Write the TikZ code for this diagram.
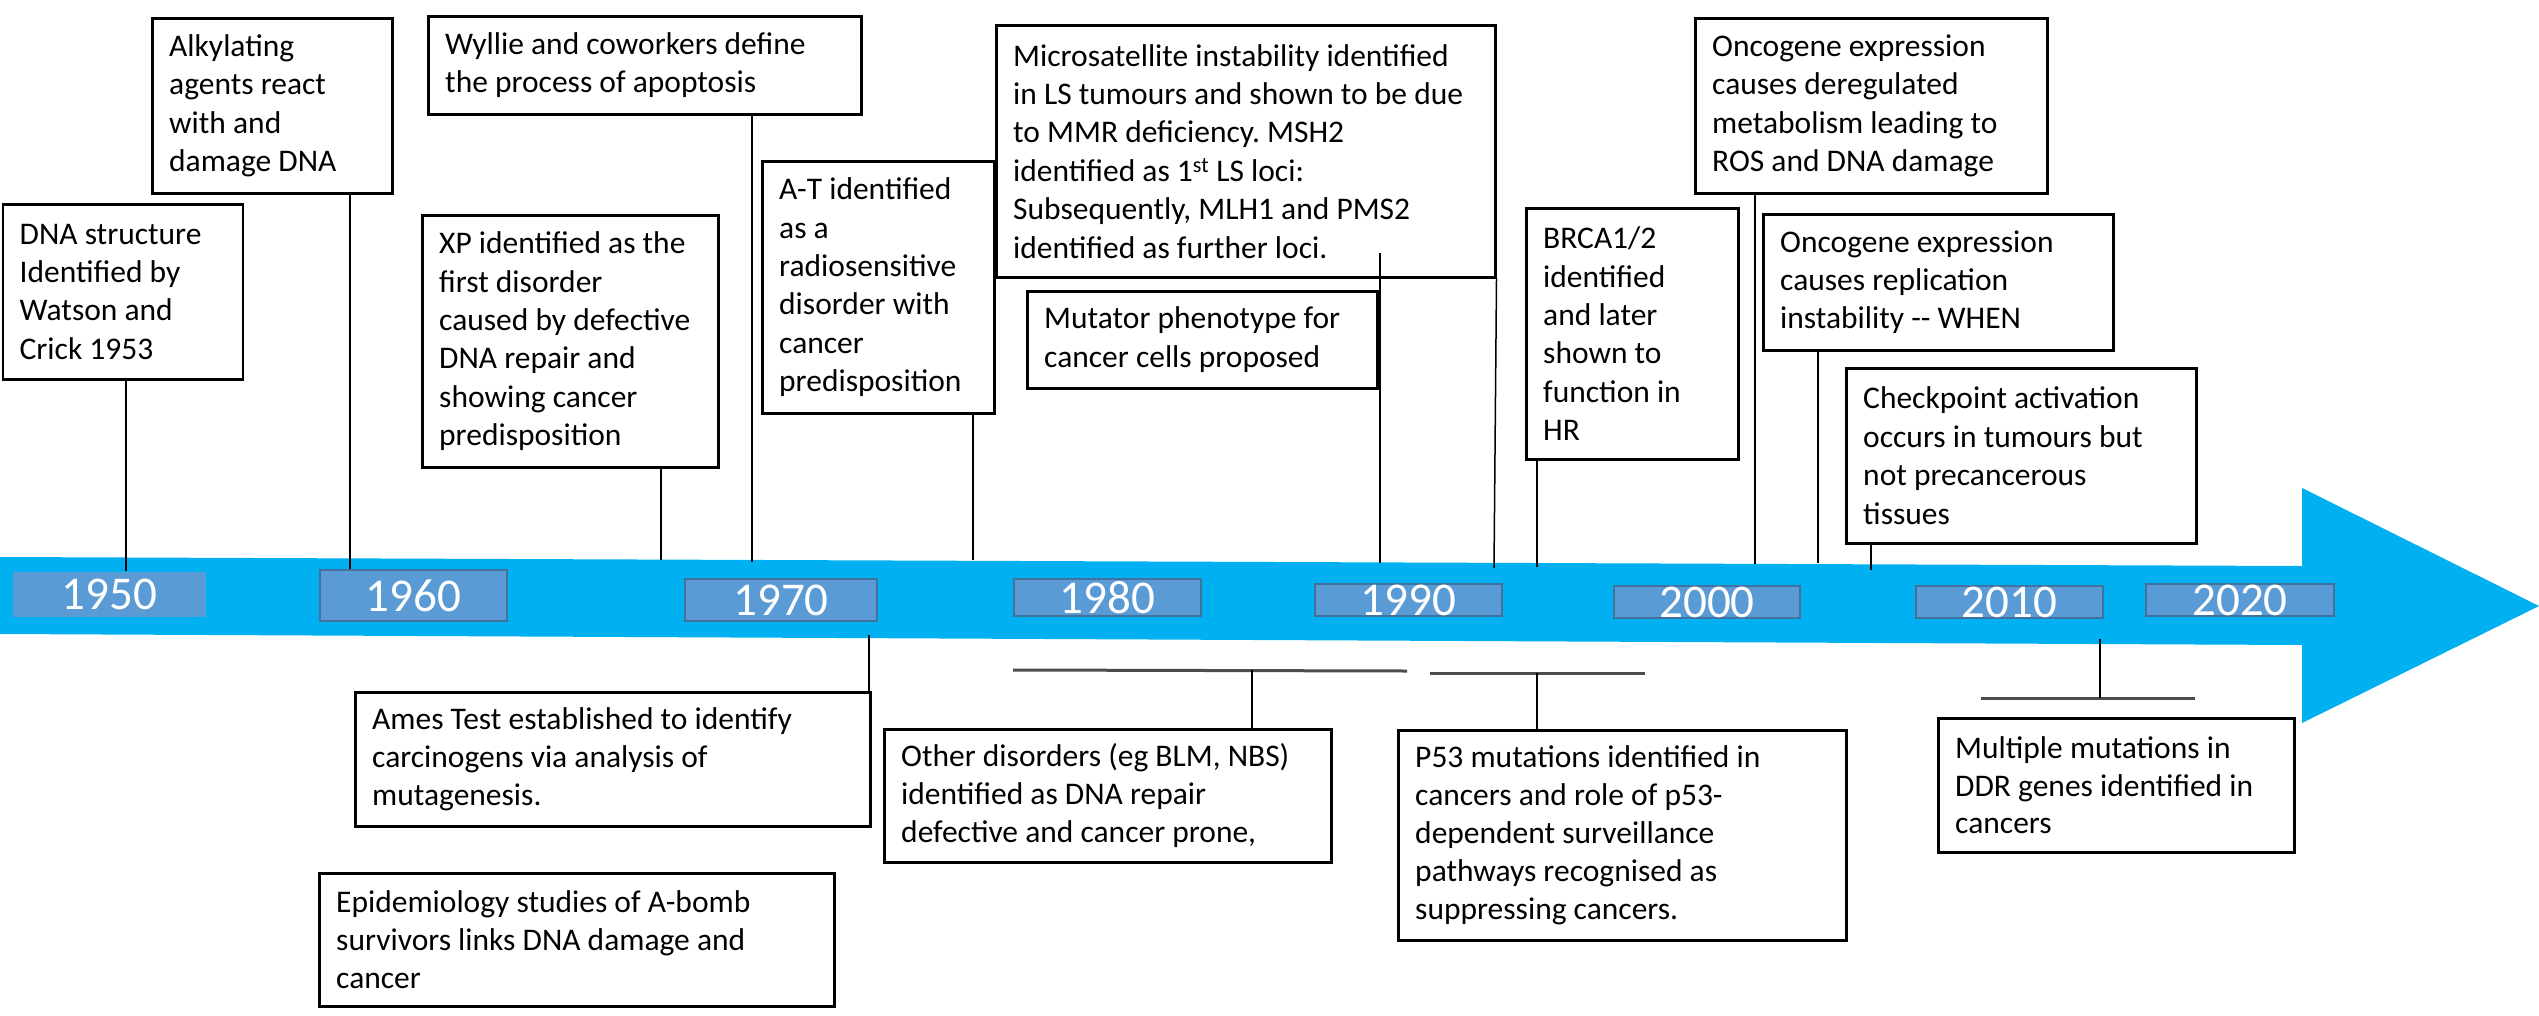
\documentclass[tikz,border=0pt]{standalone}
\usepackage{fontspec}
\setmainfont{Carlito}
\usetikzlibrary{calc}
\definecolor{arrowblue}{HTML}{00B0F0}
\definecolor{yearfill}{HTML}{5B9BD5}
\definecolor{yearline}{HTML}{41719C}
\frenchspacing
\begin{document}
\begin{tikzpicture}[x=1pt,y=-1pt,
  evbox/.style={draw=black, line width=2.5pt, fill=white, anchor=north west, inner sep=0pt},
  evtext/.style={anchor=west, align=left, inner sep=0pt, font=\fontsize{31.5}{38.4}\selectfont},
  lowtext/.style={evtext, font=\fontsize{31.5}{37.8}\selectfont},
  yearbox/.style={fill=yearfill, draw=yearline, line width=2pt, inner sep=0pt, anchor=north west, text=white, font=\fontsize{47}{50}\selectfont},
  conn/.style={black, line width=1.5pt},
  brk/.style={black!70, line width=3pt}]
\useasboundingbox (0,0) rectangle (2539,1015);
\fill[white] (0,0) rectangle (2539,1015);

% timeline arrow
\fill[arrowblue] (0,557) -- (2302,566) -- (2302,488) -- (2539,606) -- (2302,723) -- (2302,645) -- (0,634) -- cycle;

% year labels
\node[yearbox, draw=none, minimum width=193pt, minimum height=45pt] (y1950) at (12,571) {1950};
\node[yearbox, minimum width=187pt, minimum height=51pt] (y1960) at (319,569) {1960};
\node[yearbox, minimum width=192pt, minimum height=42pt] (y1970) at (684,578) {1970};
\node[yearbox, minimum width=187pt, minimum height=37pt] (y1980) at (1013,578) {1980};
\node[yearbox, minimum width=187pt, minimum height=32pt] (y1990) at (1314,583) {1990};
\node[yearbox, minimum width=186pt, minimum height=32pt] (y2000) at (1613,585) {2000};
\node[yearbox, minimum width=187pt, minimum height=32pt] (y2010) at (1915,585) {2010};
\node[yearbox, minimum width=188pt, minimum height=32pt] (y2020) at (2145,583) {2020};

% upper boxes
\node[evbox, minimum width=240pt, minimum height=175pt] (dna) at (1.5,203) {};
\node[evtext] (dnat) at ([xshift=18pt]dna.west) {DNA structure\\Identified by\\Watson and\\Crick 1953};

\node[evbox, minimum width=240pt, minimum height=175pt] (alk) at (151,17) {};
\node[evtext] (alkt) at ([xshift=18pt]alk.west) {Alkylating\\agents react\\with and\\damage DNA};

\node[evbox, minimum width=433pt, minimum height=98pt] (wyl) at (427,15) {};
\node[evtext] (wylt) at ([xshift=18pt]wyl.west) {Wyllie and coworkers define\\the process of apoptosis};

\node[evbox, minimum width=296pt, minimum height=252pt] (xp) at (421,214) {};
\node[evtext] (xpt) at ([xshift=18pt]xp.west) {XP identified as the\\first disorder\\caused by defective\\DNA repair and\\showing cancer\\predisposition};

\node[evbox, minimum width=232pt, minimum height=252pt] (at) at (761,160) {};
\node[evtext] (att) at ([xshift=18pt]at.west) {A-T identified\\as a\\radiosensitive\\disorder with\\cancer\\predisposition};

\node[evbox, minimum width=499pt, minimum height=252pt] (msi) at (995,24) {};
\node[evtext] (msit) at ([xshift=18pt]msi.west) {Microsatellite instability identified\\in LS tumours and shown to be due\\to MMR deficiency. MSH2\\identified as 1\textsuperscript{st} LS loci:\\Subsequently, MLH1 and PMS2\\identified as further loci.};

\node[evbox, minimum width=350pt, minimum height=97pt] (mut) at (1026,290) {};
\node[evtext] (mutt) at ([xshift=18pt]mut.west) {Mutator phenotype for\\cancer cells proposed};

\node[evbox, minimum width=212pt, minimum height=251pt] (brca) at (1525,207) {};
\node[evtext] (brcat) at ([xshift=18pt]brca.west) {BRCA1/2\\identified\\and later\\shown to\\function in\\HR};

\node[evbox, minimum width=352pt, minimum height=175pt] (onc1) at (1694,17) {};
\node[evtext] (onc1t) at ([xshift=18pt]onc1.west) {Oncogene expression\\causes deregulated\\metabolism leading to\\ROS and DNA damage};

\node[evbox, minimum width=350pt, minimum height=136pt] (onc2) at (1762,213) {};
\node[evtext] (onc2t) at ([xshift=18pt]onc2.west) {Oncogene expression\\causes replication\\instability -{}- WHEN};

\node[evbox, minimum width=350pt, minimum height=175pt] (chk) at (1845,367) {};
\node[evtext] (chkt) at ([xshift=18pt]chk.west) {Checkpoint activation\\occurs in tumours but\\not precancerous\\tissues};

% lower boxes
\node[evbox, minimum width=515pt, minimum height=134pt] (ames) at (354,691) {};
\node[lowtext] (amest) at ([xshift=18pt]ames.west) {Ames Test established to identify\\carcinogens via analysis of\\mutagenesis.};

\node[evbox, minimum width=515pt, minimum height=133pt] (epi) at (318,872) {};
\node[lowtext] (epit) at ([xshift=18pt]epi.west) {Epidemiology studies of A-bomb\\survivors links DNA damage and\\cancer};

\node[evbox, minimum width=447pt, minimum height=133pt] (oth) at (883,728) {};
\node[lowtext] (otht) at ([xshift=18pt]oth.west) {Other disorders (eg BLM, NBS)\\identified as DNA repair\\defective and cancer prone,};

\node[evbox, minimum width=448pt, minimum height=210pt] (p53) at (1397,729) {};
\node[lowtext] (p53t) at ([xshift=18pt]p53.west) {P53 mutations identified in\\cancers and role of p53-\\dependent surveillance\\pathways recognised as\\suppressing cancers.};

\node[evbox, minimum width=356pt, minimum height=134pt] (ddr) at (1937,717) {};
\node[lowtext] (ddrt) at ([xshift=18pt]ddr.west) {Multiple mutations in\\DDR genes identified in\\cancers};

% connector end points on the timeline
\coordinate (a1) at (126,571);
\coordinate (a2) at (350,569);
\coordinate (a3) at (752,562);
\coordinate (a4) at (661,560);
\coordinate (a5) at (973,560);
\coordinate (a6) at (1380,563);
\coordinate (m6) at (1380,253);
\coordinate (a7) at (1494,568);
\coordinate (a8) at (1537,567);
\coordinate (a9) at (1755,564);
\coordinate (a10) at (1818,563);
\coordinate (a11) at (1871,570);

\draw[conn] (a1 |- dna.south) -- (a1);
\draw[conn] (a2 |- alk.south) -- (a2);
\draw[conn] (a3 |- wyl.south) -- (a3);
\draw[conn] (a4 |- xp.south) -- (a4);
\draw[conn] (a5 |- at.south) -- (a5);
\draw[conn] (m6) -- (a6);
\draw[conn] (msi.south east) -- (a7);
\draw[conn] (a8 |- brca.south) -- (a8);
\draw[conn] (a9 |- onc1.south) -- (a9);
\draw[conn] (a10 |- onc2.south) -- (a10);
\draw[conn] (a11 |- chk.south) -- (a11);

% lower connectors
\coordinate (b1) at (869,635);
\draw[conn] (b1) -- (b1 |- ames.north);

\coordinate (h1l) at (1013,670);
\coordinate (h1r) at (1407,671);
\coordinate (h1m) at (1252,670);
\draw[brk] (h1l) -- (h1r);
\draw[conn] (h1m) -- (h1m |- oth.north);

\coordinate (h2l) at (1430,673);
\coordinate (h2r) at (1645,673);
\coordinate (h2m) at (1537,673);
\draw[brk] (h2l) -- (h2r);
\draw[conn] (h2m) -- (h2m |- p53.north);

\coordinate (h3l) at (1981,698);
\coordinate (h3r) at (2195,698);
\coordinate (b3) at (2100,639);
\draw[brk] (h3l) -- (h3r);
\draw[conn] (b3) -- (b3 |- h3l);
\end{tikzpicture}
\end{document}
